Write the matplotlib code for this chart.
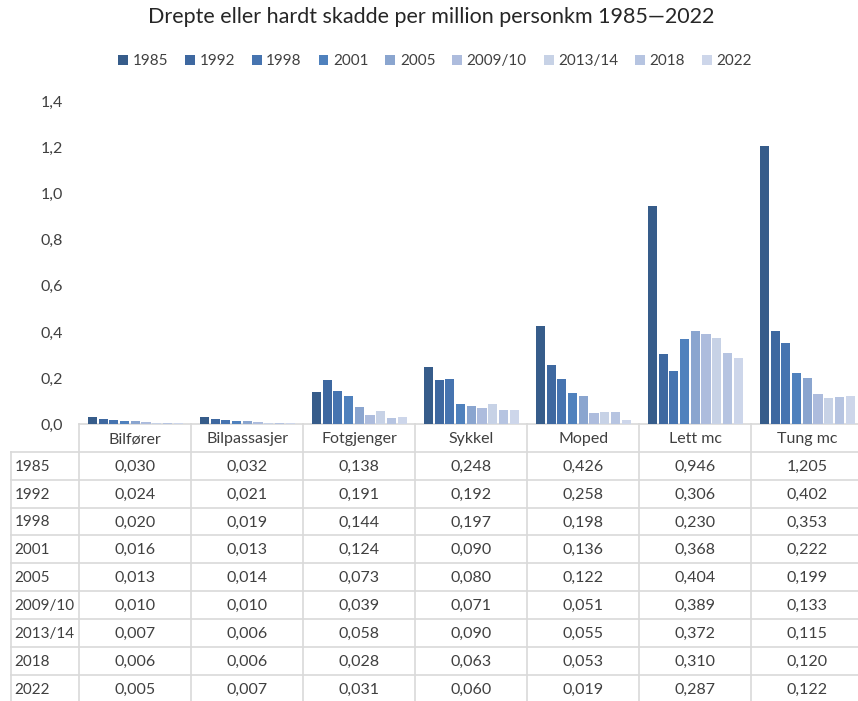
import matplotlib
matplotlib.use("Agg")
import matplotlib.pyplot as plt
from matplotlib.transforms import blended_transform_factory
from matplotlib.patches import Patch

plt.rcParams['font.family'] = ['Lato', 'DejaVu Sans']

categories = ["Bilfører", "Bilpassasjer", "Fotgjenger", "Sykkel", "Moped", "Lett mc", "Tung mc"]
years = ["1985", "1992", "1998", "2001", "2005", "2009/10", "2013/14", "2018", "2022"]
v1985 = [0.030, 0.032, 0.138, 0.248, 0.426, 0.946, 1.205]
v1992 = [0.024, 0.021, 0.191, 0.192, 0.258, 0.306, 0.402]
v1998 = [0.020, 0.019, 0.144, 0.197, 0.198, 0.230, 0.353]
v2001 = [0.016, 0.013, 0.124, 0.090, 0.136, 0.368, 0.222]
v2005 = [0.013, 0.014, 0.073, 0.080, 0.122, 0.404, 0.199]
v2009 = [0.010, 0.010, 0.039, 0.071, 0.051, 0.389, 0.133]
v2013 = [0.007, 0.006, 0.058, 0.090, 0.055, 0.372, 0.115]
v2018 = [0.006, 0.006, 0.028, 0.063, 0.053, 0.310, 0.120]
v2022 = [0.005, 0.007, 0.031, 0.060, 0.019, 0.287, 0.122]
series = [v1985, v1992, v1998, v2001, v2005, v2009, v2013, v2018, v2022]
colors = ["#365c8a", "#3e68a0", "#4674b0", "#4f81bd", "#8aa5cf",
          "#adbcdd", "#c7d2e6", "#b6c4e1", "#cdd6ea"]
yticks = [0.0, 0.2, 0.4, 0.6, 0.8, 1.0, 1.2, 1.4]

W, H = 858, 701
fig = plt.figure(figsize=(W / 100, H / 100), dpi=100)
text_col = "#404040"
grid_col = "#d9d9d9"

# bar axes
ax_left, ax_right, ax_top, ax_bot = 79.3, 79.3 + 7 * 112, 101, 424.3
ax = fig.add_axes([ax_left / W, 1 - ax_bot / H, (ax_right - ax_left) / W, (ax_bot - ax_top) / H])
n = len(series)
group = 0.86
bw = group / n
for i, (vals, c) in enumerate(zip(series, colors)):
    xs = [k - group / 2 + bw * (i + 0.5) for k in range(len(categories))]
    ax.bar(xs, vals, width=bw * 0.86, color=c, edgecolor="none")
ax.set_xlim(-0.5, len(categories) - 0.5)
ax.set_ylim(0, 1.4)
ax.set_yticks(yticks)
ax.set_yticklabels([f"{t:.1f}".replace(".", ",") for t in yticks], fontsize=11.5, color=text_col)
ax.tick_params(axis="y", length=0, pad=12)
ax.set_xticks([])
for s in ax.spines.values():
    s.set_visible(False)
ax.patch.set_alpha(0)

# table overlay in pixel coordinates
tab = fig.add_axes([0, 0, 1, 1], zorder=-1)
tab.set_xlim(0, W)
tab.set_ylim(H, 0)
tab.axis("off")
tr = blended_transform_factory(ax.transData, tab.transData)

header_top = 424.3
header_bot = 451.7
row_h = 27.9
table_bot = header_bot + row_h * len(years)
left_edge = 10.5

# horizontal lines
tab.plot([ax_left, W + 10], [header_top, header_top], color=grid_col, lw=1.2)
for r in range(len(years) + 1):
    y = header_bot + r * row_h
    tab.plot([left_edge, W + 10], [y, y], color=grid_col, lw=1.2)
# vertical lines
tab.plot([left_edge, left_edge], [header_bot, table_bot], color=grid_col, lw=1.2)
for k in range(len(categories) + 1):
    tab.plot([k - 0.5, k - 0.5], [header_top, table_bot], color=grid_col, lw=1.2, transform=tr)

# header
for k, cat in enumerate(categories):
    tab.text(k, (header_top + header_bot) / 2 + 1, cat, transform=tr, ha="center", va="center",
             fontsize=11.5, color=text_col)
# rows
for r, (yr, vals) in enumerate(zip(years, series)):
    yc = header_bot + (r + 0.5) * row_h + 1
    tab.text(left_edge + 4, yc, yr, ha="left", va="center", fontsize=11, color=text_col)
    for k, v in enumerate(vals):
        tab.text(k, yc, f"{v:.3f}".replace(".", ","), transform=tr, ha="center", va="center",
                 fontsize=11.5, color=text_col)

# title and legend
fig.text(431 / W, 1 - 17 / H, "Drepte eller hardt skadde per million personkm 1985\u20142022",
         ha="center", va="center", fontsize=15.5, color="#262626")
handles = [Patch(facecolor=c, edgecolor="none") for c in colors]
fig.legend(handles, years, loc="center", bbox_to_anchor=(435 / W, 1 - 61 / H), ncol=9,
           frameon=False, fontsize=11, handlelength=0.65, handleheight=0.65, handletextpad=0.3,
           columnspacing=1.1, labelcolor=text_col)

fig.savefig("out.png", dpi=100)
